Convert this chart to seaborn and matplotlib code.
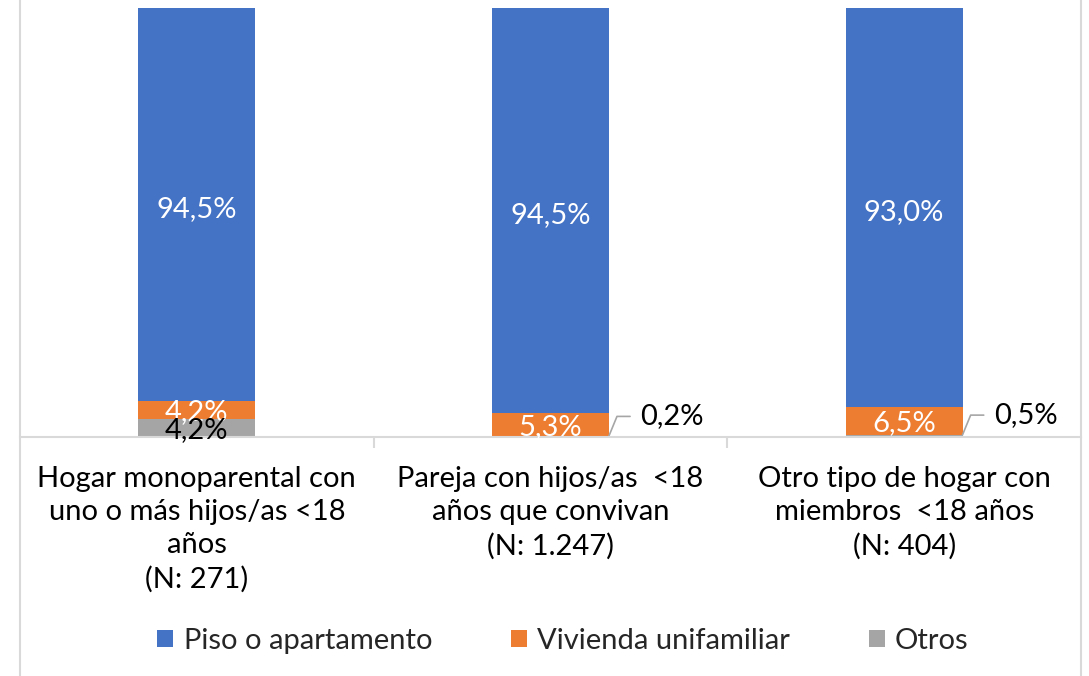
import matplotlib
matplotlib.use("Agg")
import matplotlib.pyplot as plt
from matplotlib.lines import Line2D
from matplotlib.patches import Patch
import seaborn as sns
import pandas as pd

categories = [
    "Hogar monoparental con\nuno o más hijos/as <18\naños\n(N: 271)",
    "Pareja con hijos/as  <18\naños que convivan\n(N: 1.247)",
    "Otro tipo de hogar con\nmiembros  <18 años\n(N: 404)",
]
piso = [94.5, 94.5, 93.0]
vivienda = [4.2, 5.3, 6.5]
otros = [4.2, 0.2, 0.5]
labels_piso = ["94,5%", "94,5%", "93,0%"]
labels_viv = ["4,2%", "5,3%", "6,5%"]
labels_otros = ["4,2%", "0,2%", "0,5%"]
series_names = ["Piso o apartamento", "Vivienda unifamiliar", "Otros"]

sns.set_theme(style="white")
plt.rcParams['font.family'] = ['Lato', 'DejaVu Sans']

BLUE, ORANGE, GRAY = "#4472C4", "#ED7D31", "#A5A5A5"
LINE = "#D9D9D9"

df = pd.DataFrame({
    "cat": categories,
    "otros": otros,
    "viv_top": [o + v for o, v in zip(otros, vivienda)],
    "piso_top": [o + v + p for o, v, p in zip(otros, vivienda, piso)],
})

fig = plt.figure(figsize=(10.89, 6.76), dpi=100)
ax = fig.add_axes([20/1089, 1-437/676, 1061/1089, 429/676])

W = 0.33
for col, c in (("piso_top", BLUE), ("viv_top", ORANGE), ("otros", GRAY)):
    sns.barplot(data=df, x="cat", y=col, color=c, width=W, ax=ax, saturation=1,
                linewidth=0, edgecolor="none")

ax.set_ylim(0, 100)
ax.set_xlim(-0.5, 2.5)
ax.set_xlabel("")
ax.set_ylabel("")
ax.set_yticks([])
for s in ["top", "right", "left"]:
    ax.spines[s].set_visible(False)
ax.spines["bottom"].set_color(LINE)
ax.spines["bottom"].set_linewidth(1.5)

fs = 21
ax.set_xticks([0, 1, 2])
ax.set_xticklabels(categories, fontsize=fs, color="black", linespacing=1.34)
ax.tick_params(axis="x", which="major", length=0, pad=21)
ax.set_xticks([0.5, 1.5], minor=True)
ax.tick_params(axis="x", which="minor", length=8, width=1.5, color=LINE, bottom=True)

for i in range(3):
    base_b = otros[i] + vivienda[i]
    top_b = min(base_b + piso[i], 100)
    ax.text(i, (base_b + top_b) / 2 - 1.0, labels_piso[i], ha="center", va="center",
            color="white", fontsize=fs)
    ax.text(i, otros[i] + vivienda[i] / 2, labels_viv[i], ha="center", va="center_baseline",
            color="white", fontsize=fs)
    if i == 0:
        ax.text(i, otros[i] / 2, labels_otros[i], ha="center", va="center_baseline",
                color="black", fontsize=fs)
    else:
        x0 = i + W / 2
        y0 = otros[i]
        ax.plot([x0, x0 + 0.023, x0 + 0.06], [y0, y0 + 4.6, y0 + 4.6],
                color="#A6A6A6", lw=1.2, clip_on=False)
        ax.text(x0 + 0.088, y0 + 4.6, labels_otros[i], ha="left", va="center",
                color="black", fontsize=fs)

# chart frame borders
fig.add_artist(Line2D([20/1089, 20/1089], [0, 1], color=LINE, lw=1.5))
fig.add_artist(Line2D([1081/1089, 1081/1089], [0, 1], color=LINE, lw=1.5))

handles = [Patch(facecolor=c, edgecolor="none") for c in (BLUE, ORANGE, GRAY)]
fig.legend(handles, series_names, loc="center", bbox_to_anchor=(563/1089, 1 - 641/676),
           ncol=3, frameon=False, fontsize=fs, handlelength=0.55, handleheight=0.55,
           handletextpad=0.35, columnspacing=2.7)

fig.savefig("out.png", dpi=100, facecolor="white")
